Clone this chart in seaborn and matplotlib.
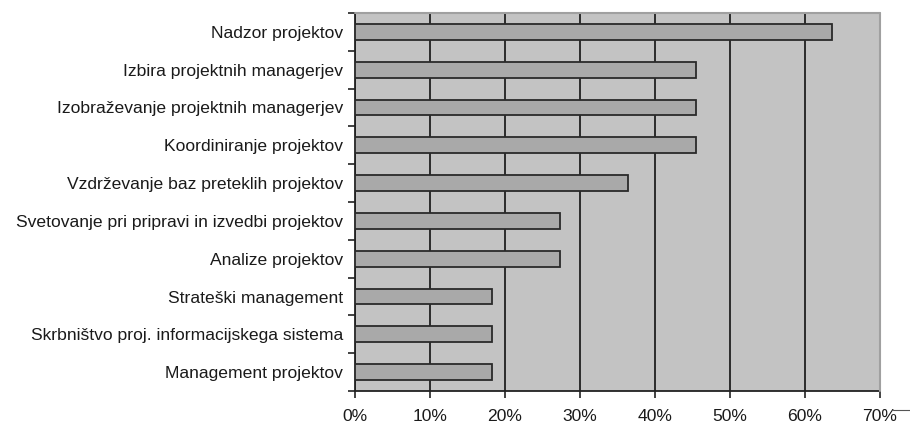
import matplotlib
matplotlib.use("Agg")
import matplotlib.pyplot as plt
import seaborn as sns
import pandas as pd
from matplotlib.ticker import PercentFormatter, FixedLocator
from matplotlib.lines import Line2D

categories = [
    "Nadzor projektov",
    "Izbira projektnih managerjev",
    "Izobraževanje projektnih managerjev",
    "Koordiniranje projektov",
    "Vzdrževanje baz preteklih projektov",
    "Svetovanje pri pripravi in izvedbi projektov",
    "Analize projektov",
    "Strateški management",
    "Skrbništvo proj. informacijskega sistema",
    "Management projektov",
]
shares = [63.6, 45.5, 45.5, 45.5, 36.4, 27.3, 27.3, 18.2, 18.2, 18.2]
x_ticks = [0, 10, 20, 30, 40, 50, 60, 70]

df = pd.DataFrame({"task": categories, "share": shares})

sns.set_theme(style="white")
plt.rcParams["font.family"] = ["Liberation Sans", "DejaVu Sans"]

fig = plt.figure(figsize=(9.10, 4.25), dpi=100)
ax = fig.add_axes([355 / 910, 1 - 391 / 425, 525 / 910, 378 / 425])
ax.set_facecolor("#c3c3c3")

sns.barplot(data=df, x="share", y="task", orient="h", ax=ax,
            color="#a9a9a9", edgecolor="#2a2a2a", linewidth=1.3,
            width=0.42, saturation=1, zorder=3)

ax.set_xlim(0, 70)
ax.set_ylim(len(categories) - 0.5, -0.5)
ax.xaxis.set_major_locator(FixedLocator(x_ticks))
ax.xaxis.set_major_formatter(PercentFormatter(decimals=0))
ax.grid(axis="x", color="#2b2b2b", linewidth=1.4, zorder=1)
ax.grid(axis="y", visible=False)
ax.set_axisbelow(True)

# category boundaries carry the y tick marks, labels sit at the centres
ax.set_yticks([i + 0.5 for i in range(-1, len(categories))], minor=False)
ax.set_yticklabels([])
ax.set_yticks(range(len(categories)), minor=True)
ax.set_yticklabels(categories, minor=True)
ax.tick_params(axis="y", which="major", left=True, length=5, width=1.2,
               color="#222222", direction="out")
ax.tick_params(axis="y", which="minor", left=False, length=0, pad=8.5,
               labelsize=12.6, labelcolor="#1a1a1a")
ax.tick_params(axis="x", bottom=True, length=5, width=1.2, color="#222222",
               direction="out", labelsize=12.6, labelcolor="#1a1a1a", pad=8)

ax.set_xlabel("")
ax.set_ylabel("")

for side in ["top", "right"]:
    ax.spines[side].set_visible(False)
for side in ["left", "bottom"]:
    ax.spines[side].set_color("#222222")
    ax.spines[side].set_linewidth(1.3)

# light frame line along the top and right of the plotting area
ax.plot([0, 70], [-0.5, -0.5], color="#a0a0a0", linewidth=1.5, clip_on=False, zorder=4)
ax.plot([70, 70], [-0.5, len(categories) - 0.5], color="#a0a0a0", linewidth=1.5,
        clip_on=False, zorder=4)

# short rule to the right of the last tick label
fig.add_artist(Line2D([893 / 910, 910 / 910], [1 - 410 / 425, 1 - 410 / 425],
                      color="#555555", linewidth=0.8))

fig.savefig("out.png", dpi=100, facecolor="white")
